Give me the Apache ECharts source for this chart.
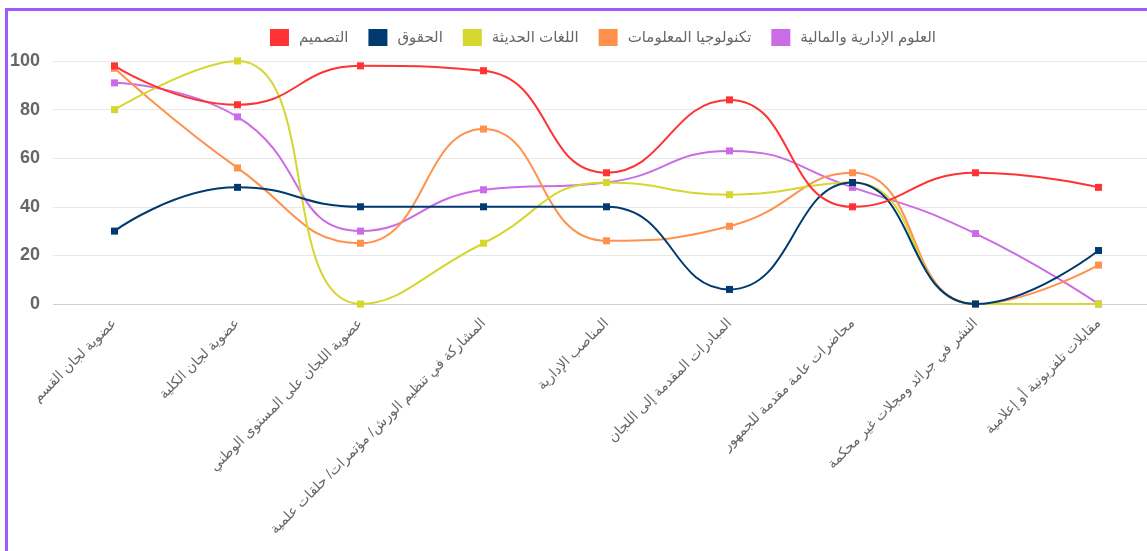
<!DOCTYPE html>
<html>
<head>
<meta charset="utf-8">
<script src="https://cdn.jsdelivr.net/npm/echarts@6/dist/echarts.min.js"></script>
<style>
html,body{margin:0;padding:0;background:#fff;width:1147px;height:551px;overflow:hidden;position:relative;}
#frame{position:absolute;left:5px;top:8px;width:1200px;height:600px;border-left:3px solid #9d5cff;border-top:3px solid #9d5cff;}
#chart{position:absolute;left:0;top:0;width:1206px;height:551px;}
</style>
</head>
<body>
<div id="frame"></div>
<div id="chart"></div>
<script>
var categories = [
  "عضوية لجان القسم",
  "عضوية لجان الكلية",
  "عضوية اللجان على المستوى الوطني",
  "المشاركة في تنظيم الورش/ مؤتمرات/ حلقات علمية",
  "المناصب الإدارية",
  "المبادرات المقدمة إلى اللجان",
  "محاضرات عامة مقدمة للجمهور",
  "النشر في جرائد ومجلات غير محكمة",
  "مقابلات تلفزيونية أو إعلامية"
];
var seriesNames = ["التصميم", "الحقوق", "اللغات الحديثة", "تكنولوجيا المعلومات", "العلوم الإدارية والمالية"];
var designValues = [98, 82, 98, 96, 54, 84, 40, 54, 48];
var lawValues = [30, 48, 40, 40, 40, 6, 50, 0, 22];
var languagesValues = [80, 100, 0, 25, 50, 45, 50, 0, 0];
var itValues = [97, 56, 25, 72, 26, 32, 54, 0, 16];
var managementValues = [91, 77, 30, 47, 50, 63, 48, 29, 0];
var yTicks = [0, 20, 40, 60, 80, 100];

var colors = ["#ff3333", "#003a70", "#d6d630", "#ff914d", "#cb6ce6"];
var allValues = [designValues, lawValues, languagesValues, itValues, managementValues];
var FONT = 'Liberation Sans, Arial, DejaVu Sans, sans-serif';

var chart = echarts.init(document.getElementById('chart'), null, {renderer: 'canvas'});
var series = seriesNames.map(function (name, i) {
  return {
    name: name,
    type: 'line',
    data: allValues[i],
    smooth: 0.5,
    symbol: 'rect',
    symbolSize: 7,
    showSymbol: true,
    z: 10 - i,
    lineStyle: {width: 2, color: colors[i]},
    itemStyle: {color: colors[i]},
    emphasis: {disabled: true}
  };
});

chart.setOption({
  animation: false,
  textStyle: {fontFamily: FONT},
  legend: {
    data: seriesNames,
    top: 24,
    left: 'center',
    itemWidth: 19,
    itemHeight: 17,
    itemGap: 20,
    icon: 'rect',
    textStyle: {color: '#666', fontSize: 15, fontFamily: FONT, padding: [0, 0, 0, 5]}
  },
  grid: {left: 53, top: 61, width: 1107, height: 243, containLabel: false},
  xAxis: {
    type: 'category',
    data: categories,
    boundaryGap: true,
    axisLine: {show: false},
    axisTick: {show: false},
    splitLine: {show: false},
    axisLabel: {
      rotate: 45,
      interval: 0,
      margin: 17,
      color: '#666',
      fontSize: 14,
      fontFamily: FONT
    }
  },
  yAxis: {
    type: 'value',
    min: yTicks[0],
    max: yTicks[yTicks.length - 1],
    interval: 20,
    axisLine: {show: false},
    axisTick: {show: false},
    splitLine: {lineStyle: {color: ['#cfcfcf', '#e8e8e8', '#e8e8e8', '#e8e8e8', '#e8e8e8', '#e8e8e8'], width: 1}},
    axisLabel: {
      color: '#666',
      fontSize: 18,
      fontWeight: 'bold',
      margin: 13,
      fontFamily: 'Liberation Sans, Arial, sans-serif'
    }
  },
  series: series
});
</script>
</body>
</html>
